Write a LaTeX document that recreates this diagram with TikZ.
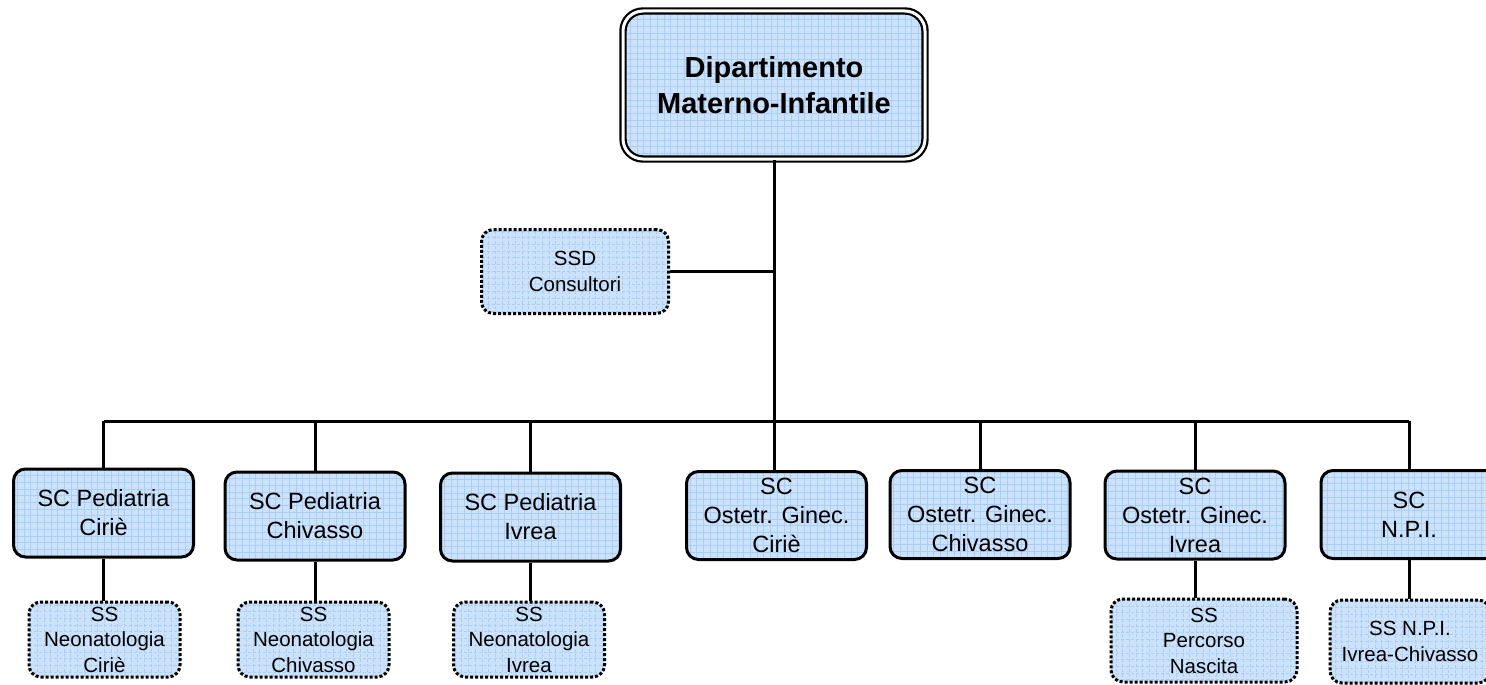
\documentclass[tikz,border=0pt]{standalone}
\usepackage{fontspec}
\setmainfont{Liberation Sans}
\usepackage{xcolor}
\usepackage{tikz}
\definecolor{boxblue}{HTML}{CBE2FA}
\definecolor{gridblue}{HTML}{AACFF5}
\tikzset{
    cell/.style={fill=boxblue, inner sep=0pt, align=center,
        path picture={\draw[gridblue, line width=0.8pt, step=6.7pt] (path picture bounding box.south west) grid (path picture bounding box.north east);}},
    topbox/.style={cell, draw, double, line width=2.2pt, double distance=3pt, rounded corners=20pt,
        minimum width=302pt, minimum height=148pt, font=\bfseries\fontsize{29}{36}\selectfont},
    scbox/.style={cell, draw, line width=3pt, rounded corners=12pt,
        minimum width=180pt, minimum height=88pt, font=\fontsize{23.5}{29}\selectfont},
    ssbox/.style={cell, draw, line width=3pt, dash pattern=on 3pt off 2pt, rounded corners=12pt,
        minimum width=151pt, minimum height=75pt, font=\fontsize{20.5}{25.5}\selectfont},
    link/.style={draw, line width=3pt}
}

\begin{document}
\begin{tikzpicture}[x=1pt, y=-1pt]
                \useasboundingbox (0,0) rectangle (1486,685);
                \node[topbox] (dip) at (774,85) {Dipartimento\\Materno-Infantile};
                \node[ssbox, minimum width=187pt, minimum height=84pt] (ssd) at (575,271.5) {SSD\\Consultori};
                \node[scbox] (pedCir) at (103.5,513) {SC Pediatria\\Ciriè};
                \node[scbox] (pedChi) at (315,516) {SC Pediatria\\Chivasso};
                \node[scbox] (pedIvr) at (530.5,517) {SC Pediatria\\Ivrea};
                \node[scbox] (ostCir) at (776.5,515.5) {SC\\Ostetr. Ginec.\\Ciriè};
                \node[scbox] (ostChi) at (980,514.5) {SC\\Ostetr. Ginec.\\Chivasso};
                \node[scbox] (ostIvr) at (1195,515) {SC\\Ostetr. Ginec.\\Ivrea};
                \node[scbox, minimum width=176pt] (npi) at (1409,514.5) {SC\\N.P.I.};
                \node[ssbox] (neoCir) at (104.5,639.5) {SS\\Neonatologia\\Ciriè};
                \node[ssbox] (neoChi) at (313.5,639.5) {SS\\Neonatologia\\Chivasso};
                \node[ssbox] (neoIvr) at (529,639.5) {SS\\Neonatologia\\Ivrea};
                \node[ssbox, minimum width=186pt, minimum height=83pt] (nascita) at (1204,640.5) {SS\\Percorso\\Nascita};
                \node[ssbox, minimum width=160pt, minimum height=83pt] (npiSS) at (1410,641.5) {SS N.P.I.\\Ivrea-Chivasso};
                \coordinate (bus) at (774,421);
                \draw[link] (dip.south) -- (dip.south |- ostCir.north);
                \draw[link] (ssd.east) -- (ssd.east -| dip.south);
                \draw[link] (pedCir.north |- bus) -- (npi.north |- bus);
                \foreach \n in {pedCir,pedChi,pedIvr,ostChi,ostIvr,npi}
                    \draw[link] (\n.north) -- (\n.north |- bus);
                \draw[link] (pedCir.south) -- (pedCir.south |- neoCir.north);
                \draw[link] (pedChi.south) -- (pedChi.south |- neoChi.north);
                \draw[link] (pedIvr.south) -- (pedIvr.south |- neoIvr.north);
                \draw[link] (ostIvr.south) -- (ostIvr.south |- nascita.north);
                \draw[link] (npi.south) -- (npi.south |- npiSS.north);
            \end{tikzpicture}
\end{document}
